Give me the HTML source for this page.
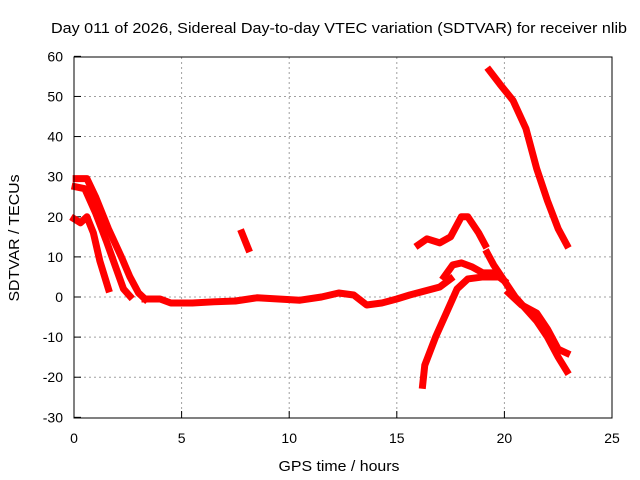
<!DOCTYPE html>
<html><head><meta charset="utf-8"><style>
body{margin:0;background:#fff}
svg{display:block;font-family:"Liberation Sans",sans-serif}
</style></head><body>
<svg id="c" width="640" height="480">
<text x="339" y="33" font-size="15" text-anchor="middle" textLength="576" lengthAdjust="spacingAndGlyphs">Day 011 of 2026, Sidereal Day-to-day VTEC variation (SDTVAR) for receiver nlib</text>
<text x="339" y="471" font-size="15" text-anchor="middle" textLength="121" lengthAdjust="spacingAndGlyphs">GPS time / hours</text>
<text transform="translate(19,238) rotate(-90)" font-size="15" text-anchor="middle" textLength="127" lengthAdjust="spacingAndGlyphs">SDTVAR / TECUs</text>
<g id="grid"></g><g id="series"></g>
<rect x="74" y="57" width="538" height="361" fill="none" stroke="#000"/>
</svg>
<script>
const xTicks=[0,5,10,15,20,25];
const yTicks=[-30,-20,-10,0,10,20,30,40,50,60];
const segA=[[0,19.5],[0.3,18.5],[0.6,20],[0.9,16],[1.2,9],[1.6,2]];
const segB=[[0.05,27.5],[0.5,27],[1,21],[1.5,14],[1.9,8],[2.3,2],[2.6,0.2]];
const segC=[[0.1,29.5],[0.6,29.5],[1,25],[1.6,17],[2.2,10],[2.6,5],[3,1],[3.3,-0.5]];
const segBase=[[3.3,-0.5],[4,-0.5],[4.5,-1.5],[5.5,-1.5],[6.5,-1.2],[7.5,-1],[8.5,-0.2],[9.5,-0.5],[10.5,-0.8],[11.5,0],[12.3,1],[13,0.5],[13.6,-2],[14.3,-1.5],[15,-0.5],[15.6,0.5],[16.3,1.5],[17,2.5],[17.5,4.5]];
const segSmall=[[7.8,16],[8.1,12]];
const segPeak=[[16,13],[16.4,14.5],[17,13.5],[17.5,15],[18,20],[18.3,20],[18.8,16],[19.1,13]];
const segRise=[[16.2,-22],[16.3,-17],[16.8,-10],[17.3,-4],[17.8,2],[18.3,4.5],[19,5],[19.6,5]];
const segHump=[[17.2,5],[17.6,8],[18,8.5],[18.5,7.5],[19,6],[19.5,6],[20,4]];
const segDesc1=[[19.2,11],[19.5,8],[20,4],[20.5,0],[21,-3],[21.5,-6],[22,-10],[22.5,-15],[22.9,-18.5]];
const segDesc2=[[20.2,1],[20.8,-2],[21.5,-4],[22,-8],[22.5,-13],[22.9,-14]];
const segTop=[[19.3,56.5],[19.8,53],[20.4,49],[21,42],[21.5,32],[22,24],[22.5,17],[22.9,13]];
const allSegs=[segA,segB,segC,segBase,segSmall,segPeak,segRise,segHump,segDesc1,segDesc2,segTop];
const X=h=>74+h*538/25, Y=v=>297-v*361/90;
const NS="http://www.w3.org/2000/svg";
const g=document.getElementById('grid'), s=document.getElementById('series');
function mk(t,a,p){const e=document.createElementNS(NS,t);for(const k in a)e.setAttribute(k,a[k]);p.appendChild(e);return e;}
xTicks.forEach(t=>{const x=X(t);
 if(t>0&&t<25){const l=mk('line',{x1:x,x2:x,y1:57,y2:418,stroke:'#a0a0a0','stroke-dasharray':'2,3'},g);
 }
 const k=mk('line',{x1:x,x2:x,y1:418,y2:411,stroke:'#000'},g);
 
 const tx=mk('text',{x:x,y:443,'font-size':14,'text-anchor':'middle'},g);tx.textContent=t;
 });
yTicks.forEach(t=>{const y=Y(t);
 if(t>-30&&t<60){const l=mk('line',{x1:74,x2:612,y1:y,y2:y,stroke:'#a0a0a0','stroke-dasharray':'2,3'},g);
 }
 const k=mk('line',{x1:74,x2:81,y1:y,y2:y,stroke:'#000'},g);
 
 const tx=mk('text',{x:63,y:y+5,'font-size':14,'text-anchor':'end'},g);tx.textContent=t;
 });
allSegs.forEach(seg=>{
 const p=mk('polyline',{points:seg.map(d=>X(d[0])+','+Y(d[1])).join(' '),fill:'none',stroke:'#ff0000','stroke-width':7,'stroke-linejoin':'round','stroke-linecap':'square'},s);
 
 
});
</script>
</body></html>
